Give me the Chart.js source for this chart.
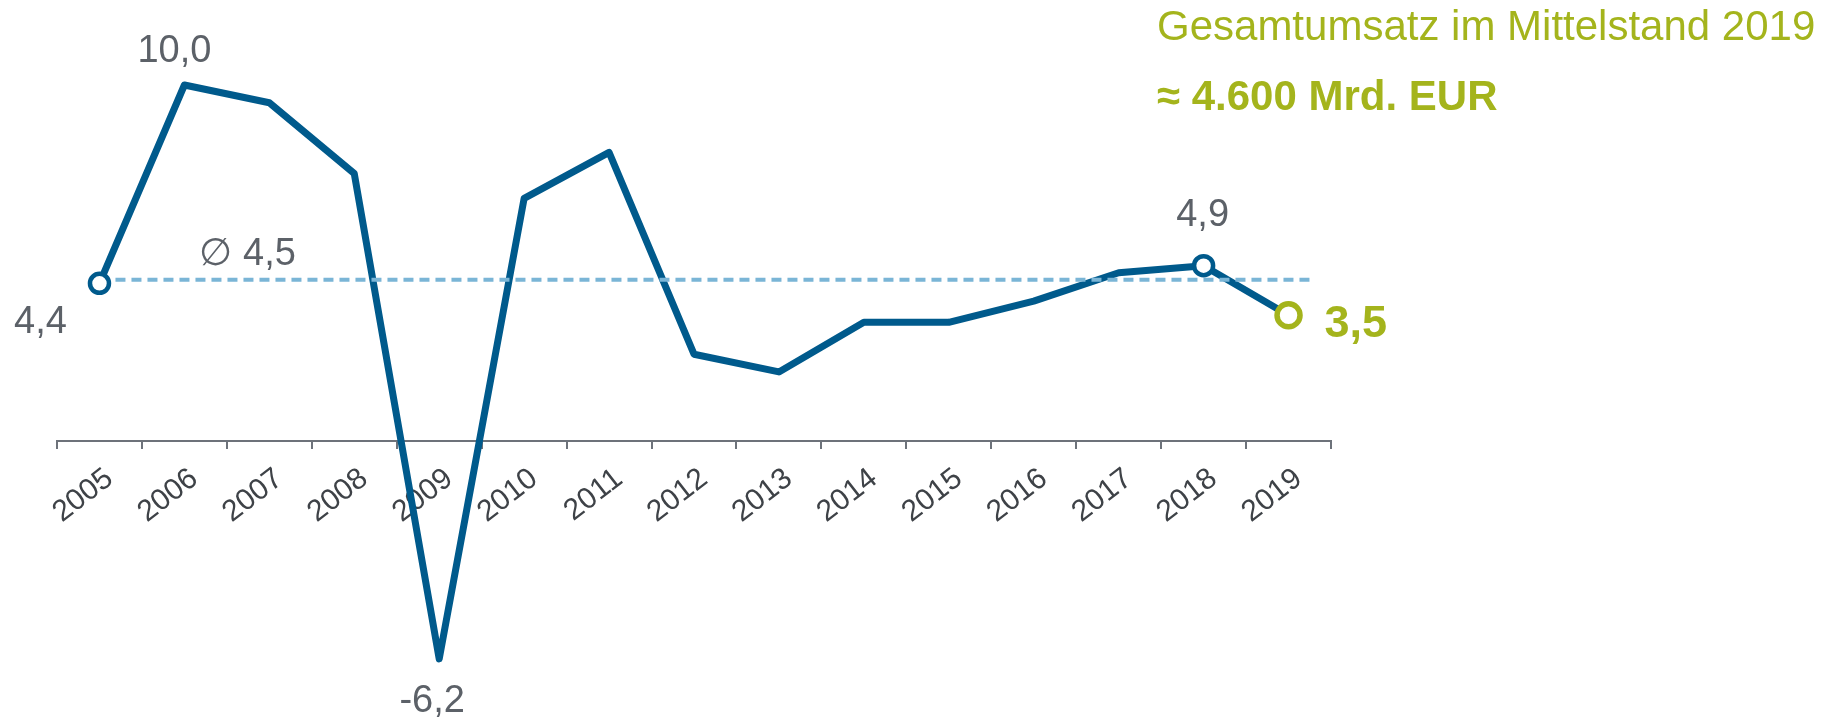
<!DOCTYPE html>
<html>
<head>
<meta charset="utf-8">
<script src="https://cdn.jsdelivr.net/npm/chart.js@4/dist/chart.umd.min.js"></script>
<style>
  html, body { margin: 0; padding: 0; background: #ffffff; }
  #wrap { position: relative; width: 1841px; height: 718px; overflow: hidden; }
  #c { position: absolute; left: 0; top: 0; }
  .hdr { position: absolute; left: 1157px; font-family: "Liberation Sans", Arial, sans-serif;
         font-size: 42px; line-height: 42px; color: #A4B41C; white-space: nowrap; }
</style>
</head>
<body>
<div id="wrap">
  <canvas id="c" width="1841" height="718"></canvas>
  <div class="hdr" id="h1" style="top:4.5px;"></div>
  <div class="hdr" id="h2" style="top:74.5px;font-weight:bold;"></div>
</div>
<script>
// ---- data ----
const years = ['2005','2006','2007','2008','2009','2010','2011','2012','2013','2014','2015','2016','2017','2018','2019'];
const growth = [4.4, 10.0, 9.5, 7.5, -6.2, 6.8, 8.1, 2.4, 1.9, 3.3, 3.3, 3.9, 4.7, 4.9, 3.5];
const averageGrowth = 4.5;
const markedYears = ['2005', '2018', '2019'];
const labelledYears = ['2005', '2006', '2009', '2018', '2019'];
const headlineTitle = 'Gesamtumsatz im Mittelstand 2019';
const headlineValue = '≈ 4.600 Mrd. EUR';

document.getElementById('h1').textContent = headlineTitle;
document.getElementById('h2').textContent = headlineValue;

// ---- style ----
const FONT = '"Liberation Sans", Arial, sans-serif';
const BLUE = '#005A8C';
const LIGHT = '#7AB5D6';
const GREEN = '#A4B41C';
const GREY = '#5C6168';
const AXIS = '#6D727A';
const fmt = v => v.toFixed(1).replace('.', ',');
const lastIdx = years.length - 1;

// label placement relative to the point (style only)
const labelPlacement = {
  '2005': { dx: -59, dy: 50, align: 'center' },
  '2006': { dx: -10, dy: -23, align: 'center' },
  '2009': { dx: -7, dy: 53, align: 'center' },
  '2018': { dx: -1, dy: -40, align: 'center' },
  '2019': { dx: 36, dy: 22, align: 'left', bold: true, color: GREEN, size: 45 }
};

const averagePlugin = {
  id: 'averageLine',
  afterDatasetDraw(chart, args) {
    if (args.index !== 0) return;
    const x = chart.scales.x, y = chart.scales.y;
    const yy = y.getPixelForValue(averageGrowth);
    const x0 = x.getPixelForValue(0);
    const x1 = x.getPixelForValue(lastIdx + 0.3);
    const ctx = chart.ctx;
    ctx.save();
    ctx.strokeStyle = LIGHT;
    ctx.lineWidth = 4;
    ctx.setLineDash([10, 6]);
    ctx.beginPath();
    ctx.moveTo(x0, yy);
    ctx.lineTo(x1, yy);
    ctx.stroke();
    ctx.restore();
  }
};

const labelPlugin = {
  id: 'valueLabels',
  afterDatasetsDraw(chart) {
    const ctx = chart.ctx;
    const meta = chart.getDatasetMeta(0);
    ctx.save();
    ctx.textBaseline = 'alphabetic';
    labelledYears.forEach(yr => {
      const i = years.indexOf(yr);
      const p = meta.data[i];
      const s = labelPlacement[yr];
      ctx.font = (s.bold ? 'bold ' : '') + (s.size || 38) + 'px ' + FONT;
      ctx.fillStyle = s.color || GREY;
      ctx.textAlign = s.align;
      ctx.fillText(fmt(growth[i]), p.x + s.dx, p.y + s.dy);
    });
    // average label
    const x = chart.scales.x, y = chart.scales.y;
    ctx.font = '38px ' + FONT;
    ctx.fillStyle = GREY;
    ctx.textAlign = 'left';
    ctx.fillText('\u2205 ' + fmt(averageGrowth), x.getPixelForValue(0) + 100, y.getPixelForValue(averageGrowth) - 15);
    ctx.restore();
  }
};

new Chart(document.getElementById('c'), {
  type: 'line',
  data: {
    labels: years,
    datasets: [
      {
        data: growth,
        borderColor: BLUE,
        borderWidth: 7,
        borderJoinStyle: 'round',
        tension: 0,
        pointRadius: 0,
        clip: false,
        order: 2
      },
      {
        data: growth.map((v, i) => markedYears.includes(years[i]) ? v : null),
        showLine: false,
        clip: false,
        order: 1,
        pointRadius: years.map(y => y === '2019' ? 11.5 : 9.5),
        pointBorderWidth: years.map(y => y === '2019' ? 5.5 : 4.5),
        pointBorderColor: years.map(y => y === '2019' ? GREEN : BLUE),
        pointBackgroundColor: '#ffffff'
      }
    ]
  },
  options: {
    responsive: false,
    animation: false,
    devicePixelRatio: 1,
    events: [],
    layout: { padding: { left: 57, right: 510, top: 85, bottom: 0 } },
    plugins: { legend: { display: false }, tooltip: { enabled: false }, title: { display: false } },
    scales: {
      x: {
        offset: true,
        grid: { offset: true, drawOnChartArea: false, drawTicks: true, tickLength: 8, color: AXIS, lineWidth: 2 },
        border: { display: true, color: AXIS, width: 2 },
        ticks: { color: '#3E4247', font: { family: FONT, size: 30 }, minRotation: 38, maxRotation: 38,
                 padding: 12, labelOffset: 10, autoSkip: false },
        afterFit: s => { s.height = 277; }
      },
      y: { display: false, min: -0.05, max: 10 }
    }
  },
  plugins: [averagePlugin, labelPlugin]
});
</script>
</body>
</html>
